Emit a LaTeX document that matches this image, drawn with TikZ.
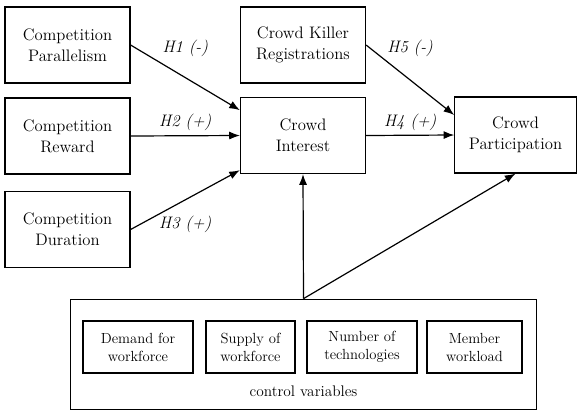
\documentclass[tikz,border=0pt]{standalone}
\usetikzlibrary{arrows.meta,positioning}
\tikzset{
  var/.style={draw, line width=0.9pt, minimum width=93.75pt, minimum height=57pt,
    align=center, inner sep=2pt, font=\fontsize{12.5}{15.5}\selectfont},
  ctl/.style={draw, line width=0.8pt, minimum height=39pt, align=center,
    inner sep=2pt, font=\fontsize{11}{13.5}\selectfont},
  hyp/.style={-{Latex[length=8pt,width=6pt]}, line width=0.9pt},
  lab/.style={font=\fontsize{12.5}{15}\selectfont\itshape}
}
\begin{document}
\begin{tikzpicture}[x=0.75pt, y=-0.75pt]
    \useasboundingbox (0,0) rectangle (585,415);
    % constructs
    \node[var] (par) at (67.5,45)   {Competition\\Parallelism};
    \node[var] (rew) at (67.5,136)  {Competition\\Reward};
    \node[var] (dur) at (67.5,229.5) {Competition\\Duration};
    \node[var] (ckr) at (303,45)    {Crowd Killer\\Registrations};
    \node[var] (ci)  at (303,135.5) {Crowd\\Interest};
    \node[var, minimum width=91pt] (cp) at (515.5,135) {Crowd\\Participation};

    % control variables
    \node[draw, line width=0.8pt, minimum width=350pt, minimum height=83pt] (ctrl) at (303.5,354.5) {};
    \foreach \n/\x/\w/\t in {dem/138/82.5/{Demand for\\workforce},
                             sup/250.5/66.75/{Supply of\\workforce},
                             num/362/82.5/{Number of\\technologies},
                             mem/474.5/71.25/{Member\\workload}} {
        \node[ctl, minimum width=\w pt] (\n) at (\x,347) {\t};
    };
    \node[font=\fontsize{11.5}{14}\selectfont] (cvlab) at (303.5,391) {control variables};

    % hypotheses
    \draw[hyp] (par.east) -- ([yshift=19pt]ci.west) node[lab, pos=0.5, above=12pt] (h1) {H1 (-)};
    \draw[hyp] (rew.east) -- (ci.west) node[lab, pos=0.5, above] (h2) {H2 (+)};
    \draw[hyp] (dur.east) -- ([yshift=-26pt]ci.west) node[lab, pos=0.5, below=8pt] (h3) {H3 (+)};
    \draw[hyp] (ci.east) -- (cp.west) node[lab, pos=0.5, above] (h4) {H4 (+)};
    \draw[hyp] (ckr.east) -- ([yshift=15pt]cp.west) node[lab, pos=0.5, above=14pt] (h5) {H5 (-)};

    % controls
    \draw[hyp] (ctrl.north) -- (ci.south);
    \draw[hyp] (ctrl.north) -- (cp.south);
\end{tikzpicture}
\end{document}
